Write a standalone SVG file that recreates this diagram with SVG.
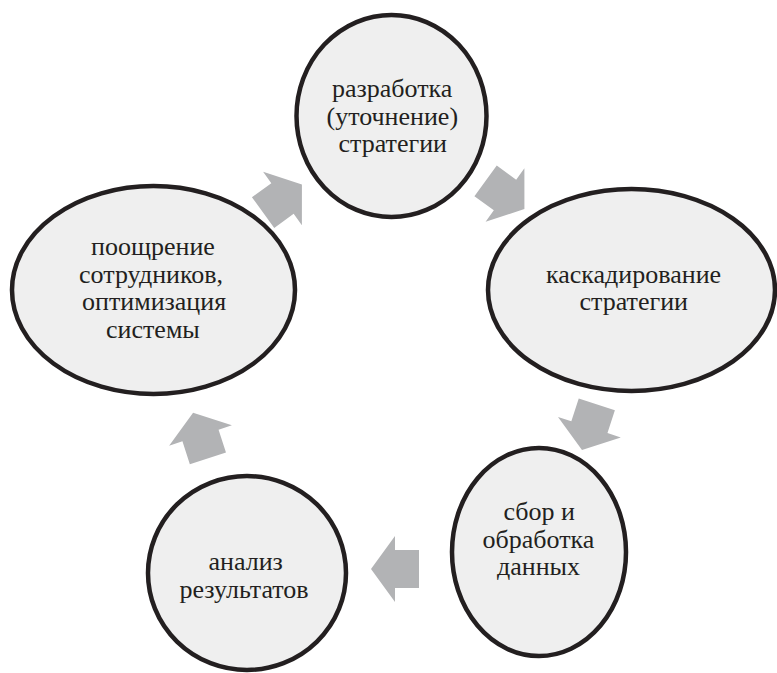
<svg xmlns="http://www.w3.org/2000/svg" width="777" height="673" viewBox="0 0 777 673">
<defs>
<polygon id="ar" points="-24,-19 0,-19 0,-33 24,0 0,33 0,19 -24,19" fill="#b2b3b5"/>
</defs>
<rect width="777" height="673" fill="#ffffff"/>
<g id="connectors">
<use href="#ar" transform="translate(505,195) rotate(36)"/>
<use href="#ar" transform="translate(589.4,427.2) rotate(108)"/>
<use href="#ar" transform="translate(395,569) rotate(180)"/>
<use href="#ar" transform="translate(200.5,435.5) rotate(-108)"/>
<use href="#ar" transform="translate(282.5,198.5) rotate(-36)"/>
</g>
<g id="node1">
<ellipse cx="391.5" cy="116" rx="95" ry="101" fill="#efefef" stroke="#231f20" stroke-width="4.5"/>
<text x="332" y="97" font-family="'Liberation Serif'" font-size="26" fill="#231f20">разработка</text>
<text x="326.5" y="124.5" font-family="'Liberation Serif'" font-size="26" fill="#231f20">(уточнение)</text>
<text x="338.5" y="152" font-family="'Liberation Serif'" font-size="26" fill="#231f20">стратегии</text>
</g>
<g id="node2">
<ellipse cx="631.5" cy="290" rx="143.5" ry="101" fill="#efefef" stroke="#231f20" stroke-width="4.5"/>
<text x="546" y="283" font-family="'Liberation Serif'" font-size="26" fill="#231f20">каскадирование</text>
<text x="579.5" y="310" font-family="'Liberation Serif'" font-size="26" fill="#231f20">стратегии</text>
</g>
<g id="node3">
<ellipse cx="539" cy="552" rx="87" ry="104" fill="#efefef" stroke="#231f20" stroke-width="4.5"/>
<text x="503.5" y="520" font-family="'Liberation Serif'" font-size="26" fill="#231f20">сбор и</text>
<text x="482.5" y="548" font-family="'Liberation Serif'" font-size="26" fill="#231f20">обработка</text>
<text x="497" y="575" font-family="'Liberation Serif'" font-size="26" fill="#231f20">данных</text>
</g>
<g id="node4">
<ellipse cx="247" cy="573" rx="99" ry="97" fill="#efefef" stroke="#231f20" stroke-width="4.5"/>
<text x="208.5" y="570" font-family="'Liberation Serif'" font-size="26" fill="#231f20">анализ</text>
<text x="179.5" y="598" font-family="'Liberation Serif'" font-size="26" fill="#231f20">результатов</text>
</g>
<g id="node5">
<ellipse cx="153.5" cy="290" rx="141.5" ry="104" fill="#efefef" stroke="#231f20" stroke-width="4.5"/>
<text x="91" y="255" font-family="'Liberation Serif'" font-size="26" fill="#231f20">поощрение</text>
<text x="79" y="282.5" font-family="'Liberation Serif'" font-size="26" fill="#231f20">сотрудников,</text>
<text x="82" y="310" font-family="'Liberation Serif'" font-size="26" fill="#231f20">оптимизация</text>
<text x="106" y="337.5" font-family="'Liberation Serif'" font-size="26" fill="#231f20">системы</text>
</g>
</svg>
